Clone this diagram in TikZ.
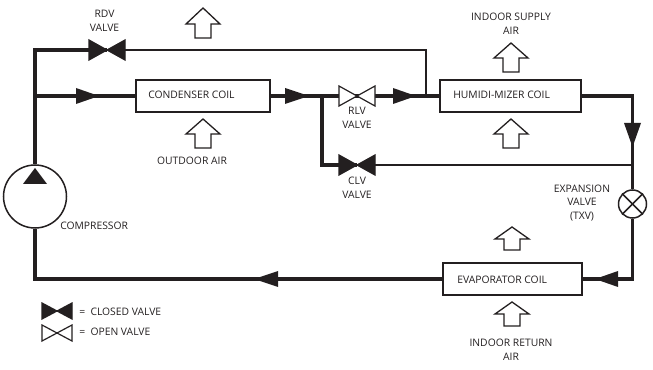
\documentclass[tikz,border=0pt]{standalone}
\usepackage{fontspec}
\setmainfont{Open Sans}
\newdimen\pxu \pxu=0.75pt
\definecolor{ink}{HTML}{231F20}
\tikzset{
  pipe/.style={line width=3.2\pxu,draw=ink,line cap=butt,line join=miter},
  thinpipe/.style={line width=1.9\pxu,draw=ink,line join=miter},
  coil/.style={draw=ink,line width=1.4\pxu,fill=white,inner sep=0pt},
  lbl/.style={text=ink,font=\fontsize{7.75pt}{10.2pt}\selectfont,inner sep=0pt,align=center},
  valvebox/.style={inner sep=0pt,minimum width=36\pxu,minimum height=20\pxu},
  airarrow/.style={draw=ink,line width=1.3\pxu,fill=white,line join=miter},
  head/.style={fill=ink,draw=none}
}
% x, y, half width, half height, fill
\newcommand\valvesym[5]{%
  \draw[ink,line width=1.2\pxu,fill=#5,line join=miter] (#1-#3,#2-#4) -- (#1+#3,#2+#4) -- (#1+#3,#2-#4) -- (#1-#3,#2+#4) -- cycle;
}
% x, tip y, shoulder y, bottom y
\newcommand\airup[4]{%
  \draw[airarrow] (#1,#2) -- (#1+17,#3) -- (#1+8,#3) -- (#1+8,#4) -- (#1-8,#4) -- (#1-8,#3) -- (#1-17,#3) -- cycle;
}
\begin{document}
\begin{tikzpicture}[x=0.75pt,y=-0.75pt]
\useasboundingbox (0,0) rectangle (653,370);
% coils and round components
\node[coil,minimum width=134\pxu,minimum height=32\pxu] (cond) at (203,96) {};
\node[coil,minimum width=141\pxu,minimum height=32\pxu] (humi) at (510.5,96) {};
\node[coil,minimum width=139\pxu,minimum height=32\pxu] (evap) at (512.5,279) {};
\node[circle,draw=ink,line width=1.5\pxu,minimum size=63\pxu,inner sep=0pt] (comp) at (35,196.5) {};
\node[circle,draw=ink,line width=1.5\pxu,minimum size=28\pxu,inner sep=0pt] (txv) at (632.5,204) {};
% junctions
\coordinate (ctop) at (35,50);
\coordinate (cjoin) at (35,96);
\coordinate (cbot) at (35,279);
\coordinate (bjoin) at (322,96);
\coordinate (hjoin) at (426,96);
\coordinate (htop) at (426,50);
\coordinate (rtop) at (632.5,96);
\coordinate (rjoin) at (632.5,165);
\coordinate (rbot) at (632.5,279);
\node[valvebox] (rdv) at (107,50) {};
\node[valvebox] (rlv) at (357,96) {};
\node[valvebox] (clv) at (357,165) {};
% pipes
\draw[pipe] (comp.north) -- (ctop) -- (rdv.center);
\draw[pipe] (cjoin) -- (cond.west);
\draw[pipe] (cond.east) -- (rlv.center);
\draw[pipe] (rlv.center) -- (humi.west);
\draw[pipe] (clv.center) -| (bjoin);
\draw[thinpipe] (rdv.center) -- (htop) -- (hjoin);
\draw[thinpipe] (clv.center) -- (rjoin);
\draw[pipe] (humi.east) -- (rtop) -- (txv.north);
\draw[pipe] (txv.south) -- (rbot) -- (evap.east);
\draw[pipe] (evap.west) -- (cbot) -- (comp.south);
% valves
\valvesym{107}{50}{18}{10}{ink}
\valvesym{357}{96}{18}{10}{white}
\valvesym{357}{165}{18}{10}{ink}
\valvesym{57}{311}{15}{8}{ink}
\valvesym{57}{333}{15}{8}{white}
% txv cross
\draw[ink,line width=1.5\pxu] (txv.north west) -- (txv.south east);
\draw[ink,line width=1.5\pxu] (txv.north east) -- (txv.south west);
% flow heads
\fill[head] (76,88) -- (99,96) -- (76,104) -- cycle;
\fill[head] (285,88) -- (309,96) -- (285,104) -- cycle;
\fill[head] (393,88) -- (416,96) -- (393,104) -- cycle;
\fill[head] (624,123) -- (632.5,147) -- (641,123) -- cycle;
\fill[head] (618,271) -- (595,279) -- (618,287) -- cycle;
\fill[head] (278,271) -- (254,279) -- (278,287) -- cycle;
\fill[head] (35,168) -- (47,184) -- (23,184) -- cycle;
% air arrows
\airup{203}{8}{24}{38}
\airup{203}{119}{134}{148}
\airup{511}{43}{58}{72}
\airup{511}{119}{134}{148}
\airup{512}{227}{239}{250}
\airup{512}{302}{314}{326}
% labels
\node[lbl] (l1) at (104.5,21) {RDV\\VALVE};
\node[lbl,anchor=west] (l2) at (148,95) {CONDENSER COIL};
\node[lbl] (l3) at (192,161) {OUTDOOR AIR};
\node[lbl] (l4) at (357,118) {RLV\\VALVE};
\node[lbl] (l5) at (357,188) {CLV\\VALVE};
\node[lbl] (l6) at (511,24) {INDOOR SUPPLY\\AIR};
\node[lbl,anchor=west] (l7) at (453,95) {HUMIDI-MIZER COIL};
\node[lbl] (l8) at (582,203) {EXPANSION\\VALVE\\(TXV)};
\node[lbl,anchor=west] (l9) at (60,226) {COMPRESSOR};
\node[lbl,anchor=west] (l10) at (457,280) {EVAPORATOR COIL};
\node[lbl] (l11) at (511,349.5) {INDOOR RETURN\\AIR};
\node[lbl,anchor=west] (l12) at (79,312) {=\hspace{4pt}CLOSED VALVE};
\node[lbl,anchor=west] (l13) at (79,332) {=\hspace{4pt}OPEN VALVE};
\end{tikzpicture}
\end{document}
